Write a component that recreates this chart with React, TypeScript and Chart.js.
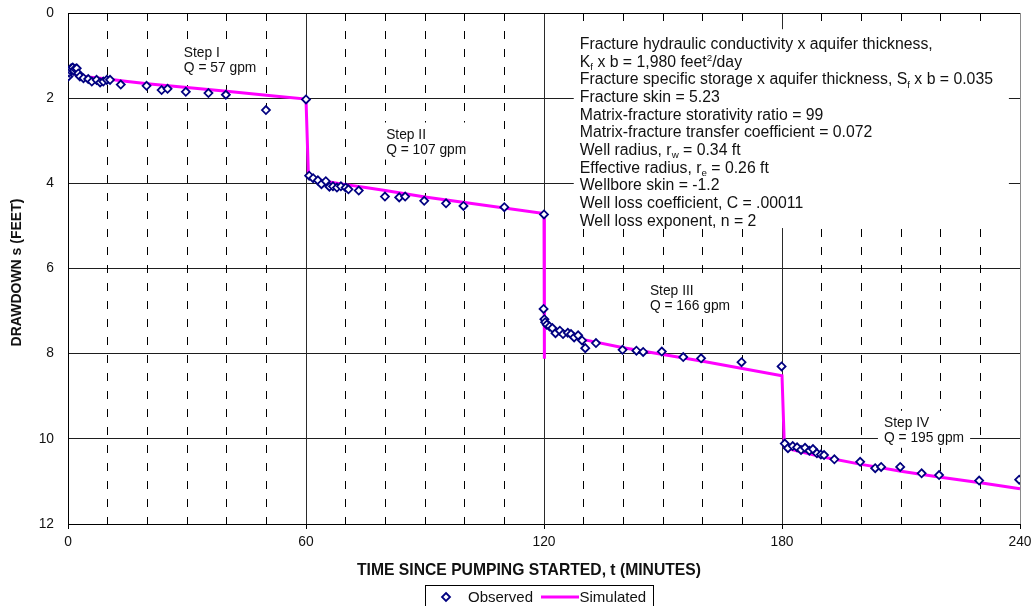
import React, { useEffect, useRef } from "react";
import { Chart, registerables } from "chart.js";

Chart.register(...registerables);

// Observed drawdown in the pumped well during the step test
const observedTime = [
  0.1, 0.3, 0.5, 0.8, 1.2, 1.5, 1.8, 2.2, 2.6, 3.0, 3.9, 5.1, 6.0, 7.2, 8.1, 8.9, 9.8, 10.6, 13.3, 19.8, 23.6, 25.1, 29.7, 35.4, 39.8, 49.9, 60.0,
  60.8, 61.8, 63.0, 63.9, 65.0, 65.9, 66.8, 67.8, 68.8, 70.0, 70.7, 73.3, 79.9, 83.5, 85.0, 89.8, 95.3, 99.7, 110.0, 120.0,
  119.9, 120.1, 120.3, 120.7, 121.4, 122.1, 122.9, 124.0, 124.8, 126.0, 126.8, 127.6, 128.6, 129.6, 130.4, 133.1, 139.8, 143.3, 145.0, 149.7, 155.1, 159.6, 169.8, 179.9,
  180.7, 181.5, 182.7, 183.8, 184.8, 185.8, 186.9, 187.8, 188.8, 189.8, 190.6, 193.2, 199.7, 203.5, 205.0, 209.8, 215.2, 219.6, 229.7, 239.8,
];
const observedDrawdown = [
  1.49, 1.40, 1.34, 1.30, 1.28, 1.36, 1.31, 1.30, 1.42, 1.49, 1.53, 1.55, 1.61, 1.57, 1.63, 1.61, 1.57, 1.57, 1.68, 1.71, 1.81, 1.78, 1.85, 1.88, 1.92, 2.28, 2.03,
  3.82, 3.88, 3.93, 4.02, 3.95, 4.08, 4.07, 4.10, 4.07, 4.10, 4.14, 4.17, 4.31, 4.33, 4.31, 4.41, 4.47, 4.53, 4.56, 4.73,
  6.95, 7.19, 7.26, 7.32, 7.36, 7.40, 7.52, 7.46, 7.54, 7.51, 7.54, 7.62, 7.57, 7.69, 7.87, 7.75, 7.91, 7.93, 7.96, 7.95, 8.08, 8.11, 8.20, 8.30,
  10.11, 10.22, 10.17, 10.20, 10.26, 10.21, 10.28, 10.24, 10.34, 10.37, 10.38, 10.48, 10.54, 10.69, 10.66, 10.66, 10.81, 10.85, 10.98, 10.96,
];

// Simulated drawdown (dual-porosity model)
const simulatedTime = [
  0.5, 1, 2, 3, 5, 10, 15, 20, 30, 40, 50, 60,
  60.6, 61, 62, 64, 66, 70, 75, 80, 90, 100, 110, 120,
  120.05, 120.15, 121, 122, 125, 130, 140, 150, 160, 170, 180,
  180.6, 182, 185, 190, 200, 210, 220, 230, 240,
  240.05, 240.3, 240.8,
];
const simulatedDrawdown = [
  1.36, 1.40, 1.44, 1.47, 1.50, 1.55, 1.61, 1.66, 1.75, 1.84, 1.93, 2.02,
  3.80, 3.84, 3.88, 3.93, 3.97, 4.03, 4.10, 4.17, 4.32, 4.45, 4.58, 4.71,
  8.12, 7.26, 7.33, 7.38, 7.50, 7.67, 7.86, 8.02, 8.18, 8.35, 8.52,
  10.18, 10.24, 10.31, 10.42, 10.60, 10.76, 10.90, 11.03, 11.17,
  4.2, 3.62, 3.49,
];

const timeTicks = [0, 60, 120, 180, 240];
const drawdownTicks = [0, 2, 4, 6, 8, 10, 12];
const minorTimeStep = 10;

const stepNames = ["Step I", "Step II", "Step III", "Step IV"];
const stepRates = [57, 107, 166, 195];

type Seg = { text: string; sub?: boolean; sup?: boolean };
const parameterLines: Seg[][] = [
  [{ text: "Fracture hydraulic conductivity x aquifer thickness," }],
  [{ text: "K" }, { text: "f", sub: true }, { text: " x b = 1,980 feet" }, { text: "2", sup: true }, { text: "/day" }],
  [{ text: "Fracture specific storage x aquifer thickness, S" }, { text: "f", sub: true }, { text: " x b = 0.035" }],
  [{ text: "Fracture skin = 5.23" }],
  [{ text: "Matrix-fracture storativity ratio = 99" }],
  [{ text: "Matrix-fracture transfer coefficient = 0.072" }],
  [{ text: "Well radius, r" }, { text: "w", sub: true }, { text: " = 0.34 ft" }],
  [{ text: "Effective radius, r" }, { text: "e", sub: true }, { text: " = 0.26 ft" }],
  [{ text: "Wellbore skin = -1.2" }],
  [{ text: "Well loss coefficient, C = .00011" }],
  [{ text: "Well loss exponent, n = 2" }],
];

// Layout of the text blocks, in axis units
const stepLabelAnchors = [
  { t: 29.2, s: 0.92 },
  { t: 80.2, s: 2.83 },
  { t: 146.7, s: 6.5 },
  { t: 205.7, s: 9.6 },
];
const parameterBox = { tMin: 127.5, tMax: 237.2, sMin: 0.38, sMax: 5.05 };

const FONT = '"Liberation Sans", Arial, Helvetica, sans-serif';
const OBS_COLOR = "#000080";
const SIM_COLOR = "#ff00ff";
const TEXT_COLOR = "#111111";

const alignPx = (p: number) => Math.round(p - 0.5) + 0.5;

function drawRich(ctx: CanvasRenderingContext2D, segs: Seg[], x: number, baseline: number, size: number) {
  let cx = x;
  for (const s of segs) {
    const small = s.sub || s.sup;
    const sz = small ? size * 0.62 : size;
    ctx.font = `${sz}px ${FONT}`;
    const dy = s.sub ? size * 0.2 : s.sup ? -size * 0.4 : 0;
    ctx.fillText(s.text, cx, baseline + dy);
    cx += ctx.measureText(s.text).width;
  }
}

const decorations = {
  id: "decorations",
  beforeDatasetsDraw(chart: any) {
    const { ctx, chartArea, scales } = chart;
    const { left, right, top, bottom } = chartArea;
    const x = scales.x;
    const y = scales.y;
    ctx.save();

    // dashed ten-minute lines
    ctx.lineWidth = 1;
    ctx.strokeStyle = "#000000";
    ctx.setLineDash([8, 10]);
    for (let t = x.min + minorTimeStep; t < x.max; t += minorTimeStep) {
      if (timeTicks.includes(t)) continue;
      const px = alignPx(x.getPixelForValue(t));
      ctx.beginPath();
      ctx.moveTo(px, top);
      ctx.lineTo(px, bottom);
      ctx.stroke();
    }
    ctx.setLineDash([]);

    // solid hourly lines
    ctx.strokeStyle = "#2a2a2a";
    for (const t of timeTicks) {
      if (t <= x.min || t >= x.max) continue;
      const px = alignPx(x.getPixelForValue(t));
      ctx.beginPath();
      ctx.moveTo(px, top);
      ctx.lineTo(px, bottom);
      ctx.stroke();
    }

    // frame top and right
    ctx.strokeStyle = "#000000";
    ctx.beginPath();
    ctx.moveTo(left, alignPx(top));
    ctx.lineTo(right, alignPx(top));
    ctx.stroke();
    ctx.strokeStyle = "#8a8a8a";
    ctx.beginPath();
    ctx.moveTo(alignPx(right), top);
    ctx.lineTo(alignPx(right), bottom);
    ctx.stroke();

    // model parameter block
    const bx0 = x.getPixelForValue(parameterBox.tMin);
    const bx1 = x.getPixelForValue(parameterBox.tMax);
    const by0 = y.getPixelForValue(parameterBox.sMin);
    const by1 = y.getPixelForValue(parameterBox.sMax);
    ctx.fillStyle = "#ffffff";
    ctx.fillRect(bx0, by0, bx1 - bx0, by1 - by0);
    ctx.fillStyle = TEXT_COLOR;
    ctx.textAlign = "left";
    ctx.textBaseline = "alphabetic";
    const pSize = 15.8;
    parameterLines.forEach((segs, i) => {
      drawRich(ctx, segs, bx0 + 6, by0 + 20 + i * 17.65, pSize);
    });

    // step labels
    const sSize = 13.8;
    ctx.font = `${sSize}px ${FONT}`;
    stepNames.forEach((name, i) => {
      const l2 = `Q = ${stepRates[i]} gpm`;
      const w = Math.max(ctx.measureText(name).width, ctx.measureText(l2).width);
      const px = x.getPixelForValue(stepLabelAnchors[i].t);
      const py = y.getPixelForValue(stepLabelAnchors[i].s);
      ctx.fillStyle = "#ffffff";
      ctx.fillRect(px - 6, py - 11, w + 12, 37);
      ctx.fillStyle = TEXT_COLOR;
      ctx.fillText(name, px, py + 5);
      ctx.fillText(l2, px, py + 20);
    });

    ctx.restore();
  },
  afterDraw(chart: any) {
    const { ctx, chartArea } = chart;
    ctx.save();
    ctx.fillStyle = TEXT_COLOR;
    ctx.textBaseline = "alphabetic";

    // axis titles
    ctx.textAlign = "center";
    ctx.font = `bold 15.7px ${FONT}`;
    ctx.fillText("TIME SINCE PUMPING STARTED, t (MINUTES)", 529, 574.6);

    ctx.save();
    ctx.translate(21, (chartArea.top + chartArea.bottom) / 2 + 4);
    ctx.rotate(-Math.PI / 2);
    ctx.font = `bold 14px ${FONT}`;
    ctx.fillText("DRAWDOWN s (FEET)", 0, 0);
    ctx.restore();

    // legend
    ctx.strokeStyle = "#000000";
    ctx.lineWidth = 1;
    ctx.strokeRect(425.5, 585.5, 228, 40);
    const dx = 446;
    const dy = 597;
    const r = 4;
    ctx.beginPath();
    ctx.moveTo(dx, dy - r);
    ctx.lineTo(dx + r, dy);
    ctx.lineTo(dx, dy + r);
    ctx.lineTo(dx - r, dy);
    ctx.closePath();
    ctx.fillStyle = "#ffffff";
    ctx.fill();
    ctx.strokeStyle = OBS_COLOR;
    ctx.lineWidth = 1.8;
    ctx.stroke();

    ctx.strokeStyle = SIM_COLOR;
    ctx.lineWidth = 3;
    ctx.beginPath();
    ctx.moveTo(541, dy);
    ctx.lineTo(579, dy);
    ctx.stroke();

    ctx.fillStyle = TEXT_COLOR;
    ctx.textAlign = "left";
    ctx.font = `15px ${FONT}`;
    ctx.fillText("Observed", 468, dy + 5.4);
    ctx.fillText("Simulated", 579.5, dy + 5.4);
    ctx.restore();
  },
};

export default function App() {
  const canvasRef = useRef<HTMLCanvasElement | null>(null);

  useEffect(() => {
    const canvas = canvasRef.current;
    if (!canvas) return;
    const observed = observedTime.map((t, i) => ({ x: t, y: observedDrawdown[i] }));
    const simulated = simulatedTime.map((t, i) => ({ x: t, y: simulatedDrawdown[i] }));

    const chart = new Chart(canvas, {
      type: "scatter",
      data: {
        datasets: [
          {
            label: "Simulated",
            data: simulated,
            showLine: true,
            borderColor: SIM_COLOR,
            backgroundColor: SIM_COLOR,
            borderWidth: 3,
            pointRadius: 0,
            pointHoverRadius: 0,
            tension: 0,
            order: 2,
            clip: false,
          } as any,
          {
            label: "Observed",
            data: observed,
            pointStyle: "rectRot",
            pointRadius: 4,
            pointBorderWidth: 1.8,
            borderColor: OBS_COLOR,
            backgroundColor: "#ffffff",
            order: 1,
          } as any,
        ],
      },
      options: {
        animation: false,
        responsive: false,
        devicePixelRatio: 1,
        events: [],
        layout: { padding: { top: 13, right: 14, left: 0, bottom: 0 } },
        plugins: {
          legend: { display: false },
          tooltip: { enabled: false },
        },
        scales: {
          x: {
            type: "linear",
            position: "bottom",
            min: 0,
            max: 240,
            afterBuildTicks: (scale: any) => {
              scale.ticks = timeTicks.map((v) => ({ value: v }));
            },
            afterFit: (scale: any) => {
              scale.height = 82;
              scale.paddingLeft = 0;
              scale.paddingRight = 0;
            },
            ticks: {
              font: { family: FONT, size: 13.8 },
              color: TEXT_COLOR,
              padding: 5,
              maxRotation: 0,
              autoSkip: false,
            },
            grid: {
              display: true,
              drawOnChartArea: false,
              drawTicks: true,
              tickLength: 5,
              color: "#000000",
            },
            border: { display: true, color: "#000000", width: 1 },
          },
          y: {
            type: "linear",
            reverse: true,
            min: 0,
            max: 12,
            afterBuildTicks: (scale: any) => {
              scale.ticks = drawdownTicks.map((v) => ({ value: v }));
            },
            afterFit: (scale: any) => {
              scale.width = 68;
              scale.paddingTop = 0;
              scale.paddingBottom = 0;
            },
            ticks: {
              font: { family: FONT, size: 13.8 },
              color: TEXT_COLOR,
              padding: 14,
            },
            grid: {
              display: true,
              drawTicks: false,
              color: "#1e1e1e",
              lineWidth: 1,
            },
            border: { display: true, color: "#000000", width: 1 },
          },
        },
      } as any,
      plugins: [decorations],
    });

    return () => chart.destroy();
  }, []);

  return (
    <div
      style={{
        position: "fixed",
        left: 0,
        top: 0,
        width: 1034,
        height: 606,
        background: "#ffffff",
        overflow: "hidden",
      }}
    >
      <canvas ref={canvasRef} width={1034} height={606} style={{ display: "block" }} />
    </div>
  );
}
